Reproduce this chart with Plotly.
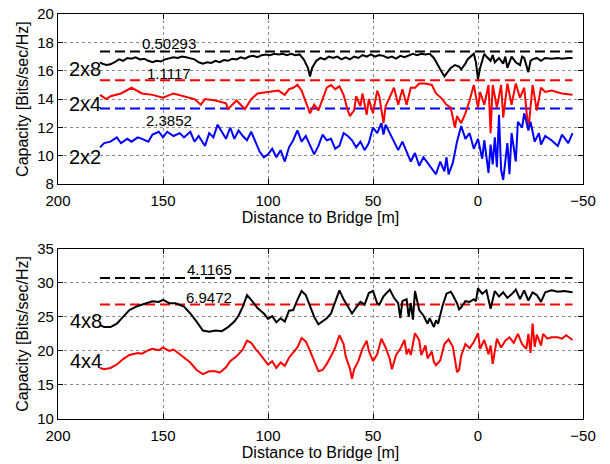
import plotly.graph_objects as go

# ---------------- data (top panel: 2xN) ----------------
d_2x8 = [180,179,177,175,173,171,169,167,165,163,161,159,157,155,153,151,149,147,145,143,141,139,137,135,133,131,129,127,125,123,121,119,117,115,113,111,109,107,105,103,101,99,97,95,93,91,89,87,85,83,81,80,79,77,75,73,71,69,67,65,63,61,59,57,55,53,51,49,47,45,43,41,39,37,35,33,31,29,27,25,23,21,20,18,16,14,13,11,9,8,6,5,3,2,1,0,-1,-2,-3,-4,-6,-7,-8,-10,-12,-13,-14,-16,-18,-20,-21,-22,-24,-25,-26,-28,-30,-32,-35,-38,-40,-43,-45]
c_2x8 = [16.6,16.5,16.4,16.45,16.6,16.8,16.7,16.9,16.85,16.95,16.8,16.85,16.7,16.6,16.7,16.65,16.8,16.85,16.95,16.9,17.0,16.95,16.9,16.8,16.6,16.5,16.6,16.55,16.7,16.6,16.75,16.7,16.85,16.8,16.95,16.85,17.0,17.05,16.95,17.1,17.15,17.1,17.2,17.15,17.2,17.1,17.2,17.1,17.15,16.8,16.2,15.6,16.2,16.7,16.9,16.8,17.0,16.9,17.0,16.8,16.95,16.8,17.0,16.9,17.1,17.0,17.15,17.0,17.1,17.05,16.9,17.0,16.85,17.05,16.95,17.1,17.2,17.1,17.2,17.15,17.2,16.9,16.6,16.1,15.6,16.0,16.2,16.4,16.3,16.1,16.5,16.8,17.1,17.2,16.6,15.4,16.2,16.8,17.2,17.0,16.7,17.1,16.6,16.9,16.5,17.0,16.2,17.0,16.6,16.4,17.0,16.9,15.9,16.7,16.8,16.9,16.7,16.9,16.85,16.9,16.85,16.9,16.9]

d_2x4 = [180,177,175,170,165,160,155,150,145,140,135,132,130,125,120,119,115,111,108,105,100,95,92,90,88,86,84,82,80,78,76,74,72,70,68,66,64,62,61,59,58,56,55,53,52,50,48,47,45,44,42,40,38,36,34,32,30,28,25,22,20,17,15,13,11,10,8,6,4,2,0,-1,-3,-5,-6,-7,-9,-11,-12,-14,-16,-18,-20,-22,-24,-26,-28,-30,-32,-35,-40,-45]
c_2x4 = [14.3,14.0,14.2,14.4,14.8,14.4,14.3,14.1,14.4,14.2,14.0,13.6,14.0,13.9,13.7,13.3,13.9,13.3,14.0,14.4,14.5,14.6,14.3,14.7,14.8,15.0,14.6,13.8,13.0,13.6,13.2,14.0,14.8,15.0,14.7,14.9,14.3,13.2,12.8,13.2,14.2,13.5,14.4,12.9,14.0,13.0,14.6,14.2,12.3,13.5,14.2,14.8,13.6,14.7,13.6,14.8,14.8,15.1,15.1,15.0,14.4,14.0,13.6,13.4,12.0,12.8,12.3,13.0,13.9,15.0,13.4,14.5,13.6,15.0,11.6,15.0,13.4,15.0,12.7,15.1,13.6,15.1,14.1,14.8,11.8,15.0,13.2,14.8,14.5,14.6,14.4,14.3]

d_2x2 = [180,178,175,172,170,167,165,162,160,157,155,152,150,148,145,142,140,137,135,133,130,128,126,124,122,120,118,116,114,112,110,108,106,104,102,100,98,96,94,92,90,88,86,84,82,80,78,76,74,72,70,68,66,64,62,60,58,56,54,52,50,48,46,45,44,42,40,38,36,34,32,30,28,26,24,22,20,18,16,15,14,12,11,10,8,6,4,2,0,-2,-3,-5,-6,-7,-8,-9,-10,-11,-12,-14,-15,-16,-18,-19,-21,-22,-24,-25,-27,-29,-30,-32,-35,-38,-40,-43,-45]
c_2x2 = [10.6,10.9,11.0,11.3,10.9,11.2,11.0,11.3,11.2,11.0,11.5,11.7,11.3,11.7,11.4,11.6,11.3,11.7,11.0,11.4,10.7,11.6,11.3,12.2,11.7,11.2,12.0,11.2,11.8,11.4,11.1,11.7,11.0,10.3,9.9,10.1,10.5,9.9,10.4,9.6,10.6,11.1,11.8,11.0,11.4,10.8,10.1,10.7,11.5,11.1,11.2,10.5,10.7,11.6,11.4,11.1,10.6,11.0,10.4,10.9,12.0,11.6,12.3,11.5,12.2,11.6,11.0,10.4,11.0,10.3,9.6,10.2,9.3,9.9,9.5,9.1,8.7,9.6,8.9,9.9,8.7,9.5,10.2,11.0,12.1,11.2,11.6,10.5,11.2,9.8,11.1,8.8,10.8,9.4,11.3,9.2,12.9,9.0,8.3,10.9,8.7,11.6,9.6,12.4,12.0,13.0,11.8,12.4,11.0,11.6,10.8,11.4,11.1,10.7,11.5,10.9,11.6]

# ---------------- data (bottom panel: 4xN) ----------------
d_4x8 = [180,178,175,172,169,166,162,158,155,152,150,147,144,140,137,134,131,128,125,122,119,116,114,112,110,108,105,102,100,98,96,94,92,90,88,86,84,82,80,78,76,74,72,70,68,66,64,62,60,58,56,54,52,50,48,47,45,42,40,38,37,36,34,33,32,31,30,28,26,24,23,21,20,19,17,15,13,12,10,9,8,6,4,2,1,0,-2,-4,-6,-8,-10,-12,-14,-16,-18,-20,-22,-24,-26,-28,-30,-32,-35,-38,-41,-45]
c_4x8 = [23.8,23.5,23.5,24.0,25.0,26.0,26.6,27.0,27.3,27.2,27.5,27.0,27.0,26.5,25.5,24.3,23.0,22.8,23.0,22.9,23.5,24.3,25.2,26.5,28.2,27.5,26.3,25.5,24.7,25.1,24.2,24.8,24.3,25.9,26.0,27.5,28.8,28.2,26.6,25.0,23.9,24.3,24.8,25.5,27.3,28.9,27.6,26.5,25.5,26.4,27.2,26.8,28.5,28.8,27.0,26.8,28.0,29.0,27.8,27.0,24.8,27.3,27.6,25.0,27.0,24.6,28.8,26.0,25.2,24.0,24.8,23.5,24.5,24.0,26.5,28.4,28.7,28.2,27.0,26.1,26.4,27.3,27.2,27.6,27.3,29.2,28.4,28.9,26.2,28.8,28.0,28.6,27.8,28.3,29.0,27.6,28.9,27.4,28.6,28.2,27.2,28.6,28.9,28.7,28.8,28.6]

d_4x4 = [180,178,175,172,169,166,162,160,157,155,152,150,147,145,142,140,137,134,131,128,125,123,120,118,115,112,110,108,106,104,102,100,98,96,94,92,90,88,86,84,82,80,78,76,74,72,70,68,66,64,63,61,60,59,57,55,53,52,50,48,46,44,42,41,39,37,35,34,33,32,30,28,27,25,24,22,21,20,18,16,14,12,11,10,9,8,6,4,2,0,-1,-3,-5,-6,-7,-9,-11,-13,-15,-17,-19,-21,-23,-24,-25,-26,-27,-28,-30,-31,-33,-35,-38,-40,-42,-45]
c_4x4 = [17.5,17.3,17.5,18.0,18.8,19.4,19.7,19.6,20.1,20.3,20.1,20.5,20.0,20.2,19.5,19.0,18.3,17.2,16.6,17.0,17.0,16.8,17.6,18.5,19.2,20.2,21.5,21.2,20.3,19.6,18.8,18.0,18.5,17.5,18.3,17.8,19.0,19.8,20.5,21.9,21.4,20.0,18.4,17.0,17.2,18.1,19.2,20.5,22.3,21.0,19.2,17.4,15.9,17.3,18.5,20.3,21.5,20.0,18.5,19.5,21.8,20.5,18.8,17.3,19.4,20.3,21.6,19.5,20.3,19.4,22.6,21.6,19.4,20.8,18.9,19.9,18.4,17.9,18.6,21.0,21.7,20.6,18.8,16.9,17.2,19.3,21.0,20.4,21.3,22.6,20.3,21.6,19.5,20.8,18.1,21.8,20.5,21.5,22.0,21.2,22.5,21.0,20.3,22.5,19.7,24.0,20.6,22.4,20.8,22.5,21.8,22.0,22.0,21.8,22.3,21.6]

# reference (dashed) levels and their labels
ref_x = [180, -45]
top_refs = [17.35, 15.33, 13.33]
top_ref_colors = ["black", "red", "blue"]
top_ref_labels = ["0.50293", "1.1117", "2.3852"]
top_ref_label_y = [17.92, 15.78, 12.48]
top_series_labels = ["2x8", "2x4", "2x2"]
top_series_label_y = [16.1, 13.67, 9.94]

bot_refs = [30.7, 26.8]
bot_ref_colors = ["black", "red"]
bot_ref_labels = ["4.1165", "6.9472"]
bot_ref_label_y = [31.9, 27.8]
bot_series_labels = ["4x8", "4x4"]
bot_series_label_y = [24.4, 18.5]

x_ticks = [200, 150, 100, 50, 0, -50]

FONT = "Liberation Sans, Arial, Helvetica, sans-serif"

fig = go.Figure()

def add_line(x, y, color, xa, ya, dash=None, width=2):
    fig.add_trace(go.Scatter(x=x, y=y, mode="lines", xaxis=xa, yaxis=ya,
                             line=dict(color=color, width=width, dash=dash),
                             showlegend=False, hoverinfo="skip"))

# top panel
for lvl, col in zip(top_refs, top_ref_colors):
    add_line(ref_x, [lvl, lvl], col, "x", "y", dash="10px,5px")
add_line(d_2x8, c_2x8, "black", "x", "y")
add_line(d_2x4, c_2x4, "red", "x", "y")
add_line(d_2x2, c_2x2, "blue", "x", "y")

# bottom panel
for lvl, col in zip(bot_refs, bot_ref_colors):
    add_line(ref_x, [lvl, lvl], col, "x2", "y2", dash="10px,5px")
add_line(d_4x8, c_4x8, "black", "x2", "y2")
add_line(d_4x4, c_4x4, "red", "x2", "y2")

annotations = []
for t, yy in zip(top_ref_labels, top_ref_label_y):
    annotations.append(dict(x=147, y=yy, xref="x", yref="y", text=t, showarrow=False,
                            font=dict(size=15, color="black", family=FONT)))
for t, yy in zip(top_series_labels, top_series_label_y):
    annotations.append(dict(x=187, y=yy, xref="x", yref="y", text=t, showarrow=False,
                            font=dict(size=20, color="black", family=FONT)))
for t, yy in zip(bot_ref_labels, bot_ref_label_y):
    annotations.append(dict(x=128, y=yy, xref="x2", yref="y2", text=t, showarrow=False,
                            font=dict(size=15, color="black", family=FONT)))
for t, yy in zip(bot_series_labels, bot_series_label_y):
    annotations.append(dict(x=186.5, y=yy, xref="x2", yref="y2", text=t, showarrow=False,
                            font=dict(size=20, color="black", family=FONT)))

axis_common = dict(showline=True, linecolor="black", linewidth=1.2, mirror="ticks",
                   ticks="inside", ticklen=5, tickcolor="black",
                   showgrid=True, gridcolor="#8a8a8a", griddash="dot", gridwidth=1,
                   zeroline=False, tickfont=dict(size=15, color="black", family=FONT))

xaxis = dict(axis_common, range=[200, -50], tickvals=x_ticks, ticklabelstandoff=3,
             title=dict(text="Distance to Bridge [m]", standoff=0,
                        font=dict(size=16, color="black", family=FONT)))

fig.update_layout(
    width=610, height=464,
    margin=dict(l=58, r=27, t=5, b=45),
    paper_bgcolor="white", plot_bgcolor="white",
    font=dict(family=FONT, color="black"),
    xaxis=dict(xaxis, anchor="y"),
    yaxis=dict(axis_common, range=[8, 20], tickvals=[8, 10, 12, 14, 16, 18, 20],
               domain=[0.5797, 1.0], anchor="x",
               title=dict(text="Capacity [Bits/sec/Hz]", standoff=4,
                          font=dict(size=16, color="black", family=FONT))),
    xaxis2=dict(xaxis, anchor="y2"),
    yaxis2=dict(axis_common, range=[10, 35], tickvals=[10, 15, 20, 25, 30, 35],
                domain=[0.0, 0.4203], anchor="x2",
                title=dict(text="Capacity [Bits/sec/Hz]", standoff=4,
                           font=dict(size=16, color="black", family=FONT))),
    annotations=annotations,
)

fig.write_html("out.html")
